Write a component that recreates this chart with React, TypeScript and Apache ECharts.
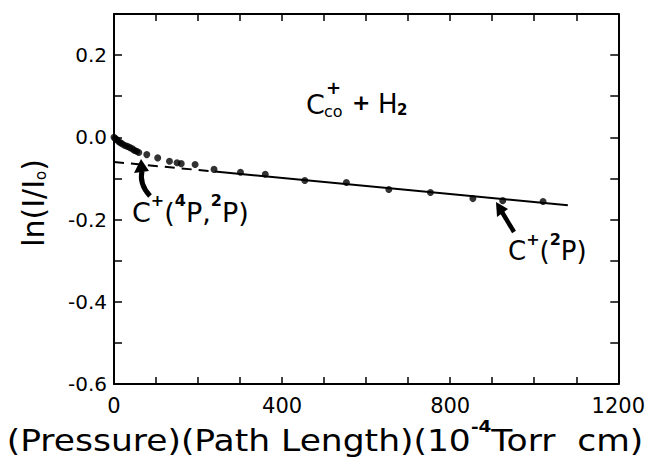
import React, { useEffect, useRef } from "react";
import * as echarts from "echarts";

// measured points: (pressure*path length, ln(I/I0))
const pointX = [0, 3, 7, 11, 15, 20, 26, 32, 38, 44, 49, 54, 59, 78, 104, 132, 150, 160, 193, 238, 301, 360, 454, 553, 654, 753, 854, 925, 1021];
const pointY = [0, -0.003, -0.006, -0.01, -0.013, -0.016, -0.02, -0.022, -0.025, -0.028, -0.032, -0.034, -0.037, -0.042, -0.05, -0.058, -0.062, -0.064, -0.066, -0.078, -0.085, -0.09, -0.105, -0.11, -0.127, -0.134, -0.149, -0.154, -0.156];

// fitted line (dashed extrapolation + solid fit)
const dashedX = [0, 240];
const dashedY = [-0.06, -0.0833];
const solidX = [240, 1080];
const solidY = [-0.0833, -0.165];

// tick labels
const xLabels = [0, 400, 800, 1200];
const yLabels = [0.2, 0.0, -0.2, -0.4, -0.6];

const FONT = "DejaVu Sans";

export default function App() {
  const ref = useRef<HTMLDivElement>(null);
  useEffect(() => {
    const chart = echarts.init(ref.current!, null, { renderer: "svg" });
    const lineStyle = { color: "#000", width: 2 };
    const xBase = {
      type: "value",
      min: 0,
      max: 1200,
      interval: 100,
      splitLine: { show: false },
      axisLine: { show: true, onZero: false, lineStyle },
      axisTick: { show: true, inside: true, length: 7, lineStyle: { color: "#000", width: 1.5 } },
    };
    const yBase = {
      type: "value",
      min: -0.6,
      max: 0.3,
      interval: 0.1,
      splitLine: { show: false },
      axisLine: { show: true, onZero: false, lineStyle },
      axisTick: { show: true, inside: true, length: 8, lineStyle: { color: "#000", width: 1.5 } },
    };
    const sup = { fontSize: 16, lineHeight: 16, verticalAlign: "top", fontWeight: "bold", fontFamily: FONT };
    chart.setOption({
      animation: false,
      backgroundColor: "#fff",
      grid: { left: 114, top: 14, width: 510, height: 370, containLabel: false },
      xAxis: [
        {
          ...xBase,
          position: "bottom",
          axisLabel: {
            show: true,
            margin: 11,
            color: "#000",
            fontFamily: FONT,
            fontSize: 21,
            formatter: (v: number) => (xLabels.some((l) => Math.abs(l - v) < 1e-6) ? String(v) : ""),
          },
        },
        { ...xBase, position: "top", axisLabel: { show: false } },
      ],
      yAxis: [
        {
          ...yBase,
          position: "left",
          axisLabel: {
            show: true,
            margin: 7,
            color: "#000",
            fontFamily: FONT,
            fontSize: 20,
            formatter: (v: number) => {
              const hit = yLabels.find((l) => Math.abs(l - v) < 1e-6);
              return hit === undefined ? "" : (Math.abs(hit) < 1e-9 ? 0 : hit).toFixed(1);
            },
          },
        },
        { ...yBase, position: "right", axisLabel: { show: false } },
      ],
      series: [
        {
          type: "line",
          data: dashedX.map((x, i) => [x, dashedY[i]]),
          symbol: "none",
          lineStyle: { color: "#000", width: 2, type: [10, 7] },
        },
        {
          type: "line",
          data: solidX.map((x, i) => [x, solidY[i]]),
          symbol: "none",
          lineStyle: { color: "#000", width: 2 },
        },
        {
          type: "scatter",
          data: pointX.map((x, i) => [x, pointY[i]]),
          symbol: "circle",
          symbolSize: 7,
          itemStyle: { color: "#000" },
        },
      ],
      graphic: [
        // title: C_co^+ + H_2
        { type: "text", x: 306, y: 91, style: { text: "C", fontSize: 27, fontFamily: FONT, fill: "#000" } },
        { type: "text", x: 326, y: 78, style: { text: "+", fontSize: 18, fontWeight: "bold", fontFamily: FONT, fill: "#000" } },
        { type: "text", x: 324, y: 103, style: { text: "co", fontSize: 16, fontFamily: FONT, fill: "#000" } },
        { type: "text", x: 352, y: 91, style: { text: "+", fontSize: 22, fontWeight: "bold", fontFamily: FONT, fill: "#000" } },
        { type: "text", x: 378, y: 91, style: { text: "H", fontSize: 26, fontFamily: FONT, fill: "#000" } },
        { type: "text", x: 397, y: 102, style: { text: "2", fontSize: 15, fontWeight: "bold", fontFamily: FONT, fill: "#000" } },
        // C+(4P,2P)
        {
          type: "text",
          x: 132,
          y: 192,
          style: {
            text: "{m|C}{s|+}{m|(}{s|4}{m|P,}{s|2}{m|P)}",
            fontFamily: FONT,
            fill: "#000",
            rich: {
              m: { fontSize: 27, lineHeight: 34, verticalAlign: "bottom", fontFamily: FONT },
              s: sup,
            },
          },
        },
        // C+(2P)
        {
          type: "text",
          x: 508,
          y: 231,
          style: {
            text: "{m|C}{s|+}{m|(}{s|2}{m|P)}",
            fontFamily: FONT,
            fill: "#000",
            rich: {
              m: { fontSize: 26, lineHeight: 33, verticalAlign: "bottom", fontFamily: FONT },
              s: sup,
            },
          },
        },
        // arrow for C+(4P,2P)
        {
          type: "bezierCurve",
          shape: { x1: 150, y1: 196, x2: 142, y2: 171, cpx1: 139, cpy1: 184 },
          style: { stroke: "#000", lineWidth: 5, fill: "none" },
        },
        { type: "polygon", shape: { points: [[141, 159], [134, 173], [149, 171]] }, style: { fill: "#000" } },
        // arrow for C+(2P)
        { type: "line", shape: { x1: 514, y1: 232, x2: 502, y2: 212 }, style: { stroke: "#000", lineWidth: 4.5 } },
        { type: "polygon", shape: { points: [[496, 202], [508, 209], [497, 217]] }, style: { fill: "#000" } },
        // y-axis title
        {
          type: "text",
          x: 30,
          y: 203,
          rotation: Math.PI / 2,
          style: {
            text: "{m|ln(I/I}{o|o}{m|)}",
            align: "center",
            verticalAlign: "middle",
            fill: "#000",
            fontFamily: FONT,
            rich: {
              m: { fontSize: 30, lineHeight: 36, verticalAlign: "bottom", fontFamily: FONT },
              o: { fontSize: 15, lineHeight: 15, verticalAlign: "bottom", fontFamily: FONT },
            },
          },
        },
        // x-axis title
        {
          type: "text",
          x: 325,
          y: 437,
          scaleX: 1.15,
          style: {
            text: "{m|(Pressure)(Path Length)(10}{s|-4}{m|Torr  cm)}",
            align: "center",
            verticalAlign: "middle",
            fill: "#000",
            fontFamily: FONT,
            rich: {
              m: { fontSize: 30, lineHeight: 38, verticalAlign: "bottom", fontFamily: FONT },
              s: { fontSize: 16, lineHeight: 16, verticalAlign: "top", fontWeight: "bold", fontFamily: FONT },
            },
          },
        },
      ],
    });
    return () => chart.dispose();
  }, []);
  return (
    <div
      ref={ref}
      style={{ position: "fixed", left: 0, top: 0, width: 648, height: 463, background: "#fff" }}
    />
  );
}
